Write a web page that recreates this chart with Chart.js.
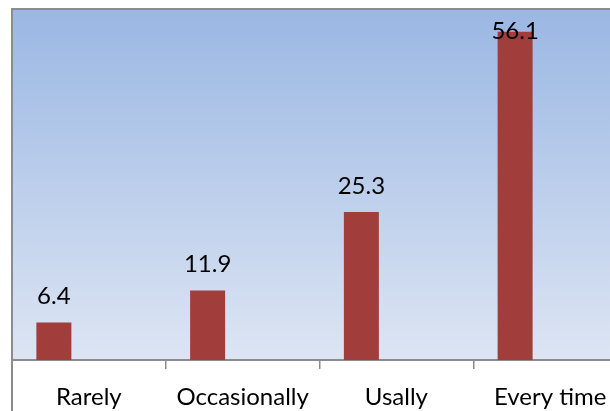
<!DOCTYPE html>
<html><head><meta charset="utf-8">
<script src="https://cdn.jsdelivr.net/npm/chart.js@4"></script>
<style>
html,body{margin:0;padding:0;overflow:hidden;background:#fff;width:610px;height:411px}
#wrap{width:640px;height:411px;position:relative}
</style></head>
<body><div id="wrap"><canvas id="c"></canvas></div>
<script>
const categories = ['Rarely', 'Occasionally', 'Usally', 'Every time'];
const frequencyValues = [6.4, 11.9, 25.3, 56.1];
const emptySeriesB = [null, null, null, null];
const emptySeriesC = [null, null, null, null];
const yMin = 0, yMax = 60;

const FONT = 'Lato, Carlito, Calibri, "Open Sans", sans-serif';
const GREY = '#8c8c8c';

const bgPlugin = {
  id: 'bg',
  beforeDraw(chart) {
    const {ctx, chartArea: a} = chart;
    const g = ctx.createLinearGradient(0, a.top, 0, a.bottom);
    g.addColorStop(0, 'rgb(154,183,227)');
    g.addColorStop(1, 'rgb(221,229,243)');
    ctx.save();
    ctx.fillStyle = g;
    ctx.fillRect(a.left, a.top, a.right - a.left, a.bottom - a.top);
    ctx.restore();
  },
  afterDraw(chart) {
    const {ctx, chartArea: a} = chart;
    ctx.save();
    ctx.strokeStyle = GREY;
    ctx.lineWidth = 2;
    ctx.beginPath();
    ctx.moveTo(a.left, chart.height);
    ctx.lineTo(a.left, a.top);
    ctx.lineTo(chart.width, a.top);
    ctx.stroke();
    ctx.restore();
  }
};

const labelPlugin = {
  id: 'vlabels',
  afterDatasetsDraw(chart) {
    const {ctx, chartArea: a} = chart;
    const meta = chart.getDatasetMeta(0);
    ctx.save();
    ctx.fillStyle = '#000';
    ctx.font = '24px ' + FONT;
    ctx.textAlign = 'center';
    ctx.textBaseline = 'middle';
    meta.data.forEach((bar, i) => {
      const y = Math.max(bar.y - 26, a.top + 22);
      ctx.fillText(frequencyValues[i].toFixed(1), bar.x, y);
    });
    ctx.restore();
  }
};

new Chart(document.getElementById('c'), {
  type: 'bar',
  data: {
    labels: categories,
    datasets: [
      {data: frequencyValues, backgroundColor: '#a13e3c', categoryPercentage: 0.683, barPercentage: 1},
      {data: emptySeriesB, backgroundColor: '#4f81bd', categoryPercentage: 0.683, barPercentage: 1},
      {data: emptySeriesC, backgroundColor: '#9bbb59', categoryPercentage: 0.683, barPercentage: 1}
    ]
  },
  options: {
    responsive: true,
    maintainAspectRatio: false,
    animation: false,
    layout: {padding: {top: 9, left: 12, right: 13, bottom: 0}},
    plugins: {legend: {display: false}, tooltip: {enabled: false}},
    scales: {
      x: {
        offset: true,
        afterFit(s) { s.height = 51; },
        grid: {display: true, offset: true, drawOnChartArea: false, drawTicks: true, tickLength: 9, color: GREY, lineWidth: 1.5},
        border: {display: true, color: GREY, width: 2},
        ticks: {color: '#000', font: {family: FONT, size: 24}, padding: 14, maxRotation: 0, autoSkip: false}
      },
      y: {display: false, min: yMin, max: yMax}
    }
  },
  plugins: [bgPlugin, labelPlugin]
});
</script>
</body></html>
